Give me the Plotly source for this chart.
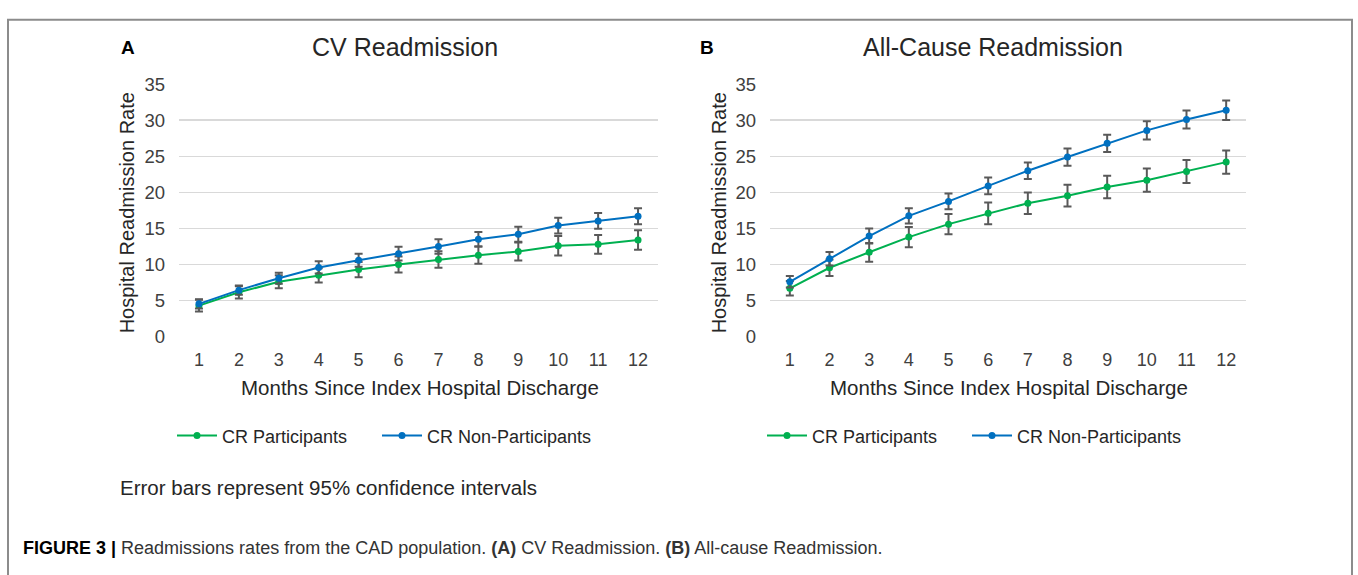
import plotly.graph_objects as go

W, H = 1358, 575

months = list(range(1, 13))
month_labels = [str(m) for m in months]

cv_cr = [4.3, 6.15, 7.6, 8.5, 9.3, 10.0, 10.7, 11.3, 11.8, 12.6, 12.8, 13.4]
cv_cr_err = [0.8, 0.85, 0.9, 1.0, 1.05, 1.1, 1.15, 1.2, 1.25, 1.35, 1.3, 1.35]
cv_non = [4.55, 6.45, 8.1, 9.6, 10.6, 11.5, 12.5, 13.5, 14.2, 15.4, 16.05, 16.7]
cv_non_err = [0.65, 0.65, 0.75, 0.85, 0.9, 0.95, 1.0, 1.0, 1.05, 1.1, 1.1, 1.1]

all_cr = [6.7, 9.55, 11.7, 13.8, 15.6, 17.1, 18.5, 19.55, 20.75, 21.7, 22.9, 24.2]
all_cr_err = [1.0, 1.15, 1.3, 1.4, 1.4, 1.5, 1.5, 1.5, 1.55, 1.6, 1.6, 1.6]
all_non = [7.6, 10.8, 13.95, 16.75, 18.75, 20.9, 23.0, 24.9, 26.8, 28.6, 30.1, 31.4]
all_non_err = [0.8, 0.95, 1.05, 1.05, 1.1, 1.15, 1.15, 1.2, 1.2, 1.25, 1.25, 1.35]

y_ticks = [0, 5, 10, 15, 20, 25, 30, 35]

series_names = ["CR Participants", "CR Non-Participants"]
GREEN = "#00B050"
BLUE = "#0070C0"
ERR = "#595959"
FONT = "Liberation Sans, Arial, sans-serif"


def px(x):
    return x / W


def py(y):
    return 1 - y / H


fig = go.Figure()


def add(x, y, err, color, name, xa, ya, legend):
    fig.add_trace(go.Scatter(
        x=x, y=y, name=name, mode="lines+markers",
        line=dict(color=color, width=2),
        marker=dict(color=color, size=7),
        error_y=dict(type="data", array=err, visible=True, color=ERR,
                     thickness=2, width=4),
        xaxis=xa, yaxis=ya, legend=legend,
    ))


add(months, cv_cr, cv_cr_err, GREEN, series_names[0], "x", "y", "legend")
add(months, cv_non, cv_non_err, BLUE, series_names[1], "x", "y", "legend2")
add(months, all_cr, all_cr_err, GREEN, series_names[0], "x2", "y2", "legend3")
add(months, all_non, all_non_err, BLUE, series_names[1], "x2", "y2", "legend4")

ydom = [py(338), py(76)]
xax = dict(range=[0.5, 12.5], tickmode="array", tickvals=months, ticktext=month_labels,
           showgrid=False, zeroline=False, showline=False, ticks="",
           ticklabelstandoff=10, tickfont=dict(family=FONT, size=18, color="#404040"),
           fixedrange=True)
yax = dict(range=[0, 35], tickmode="array", tickvals=y_ticks, showgrid=True,
           gridcolor="#D9D9D9", gridwidth=1.6, zeroline=False, showline=False, ticks="",
           ticklabelstandoff=13, tickfont=dict(family=FONT, size=18.5, color="#404040"),
           domain=ydom, fixedrange=True)

legend_common = dict(orientation="h", yanchor="middle", y=py(441), xanchor="left",
                     font=dict(family=FONT, size=18, color="#262626"),
                     bgcolor="rgba(0,0,0,0)", itemwidth=40, tracegroupgap=0)

fig.update_layout(
    width=W, height=H,
    margin=dict(l=0, r=0, t=0, b=0),
    paper_bgcolor="white", plot_bgcolor="white",
    xaxis=dict(xax, domain=[px(179), px(658)], anchor="y"),
    yaxis=dict(yax, anchor="x"),
    xaxis2=dict(xax, domain=[px(770), px(1246)], anchor="y2"),
    yaxis2=dict(yax, anchor="x2"),
    legend=dict(legend_common, x=px(172)),
    legend2=dict(legend_common, x=px(377)),
    legend3=dict(legend_common, x=px(762)),
    legend4=dict(legend_common, x=px(967)),
    showlegend=True,
)

ann = []


def text(x, y, s, size, color="#262626", xanchor="center", angle=0):
    ann.append(dict(x=px(x), y=py(y), xref="paper", yref="paper", text=s,
                    showarrow=False, xanchor=xanchor, yanchor="middle", textangle=angle,
                    font=dict(family=FONT, size=size, color=color)))


text(128, 38, "<b>A</b>", 19, "#000000")
text(405, 37, "CV Readmission", 25)
text(707, 38, "<b>B</b>", 19, "#000000")
text(993, 37, "All-Cause Readmission", 25)
text(420, 391, "Months Since Index Hospital Discharge", 20.5)
text(1009, 391, "Months Since Index Hospital Discharge", 20.5)
text(127, 210, "Hospital Readmission Rate", 20, angle=-90)
text(719, 210, "Hospital Readmission Rate", 20, angle=-90)
text(118, 495, "Error bars represent 95% confidence intervals", 20.5, xanchor="left")
text(21, 557,
     "<b>FIGURE 3 |</b> <span style='color:#333333'>Readmissions rates from the CAD population. "
     "<b>(A)</b> CV Readmission. <b>(B)</b> All-cause Readmission.</span>",
     18, "#000000", xanchor="left")

fig.update_layout(annotations=ann)

fig.add_shape(type="rect", xref="paper", yref="paper",
              x0=px(8), x1=px(1352), y0=-0.1, y1=py(9),
              line=dict(color="#8C8C8C", width=2), fillcolor="rgba(0,0,0,0)", layer="below")

fig.write_html("out.html", config={"displayModeBar": False, "staticPlot": True},
               post_script="document.body.style.margin='0';")
